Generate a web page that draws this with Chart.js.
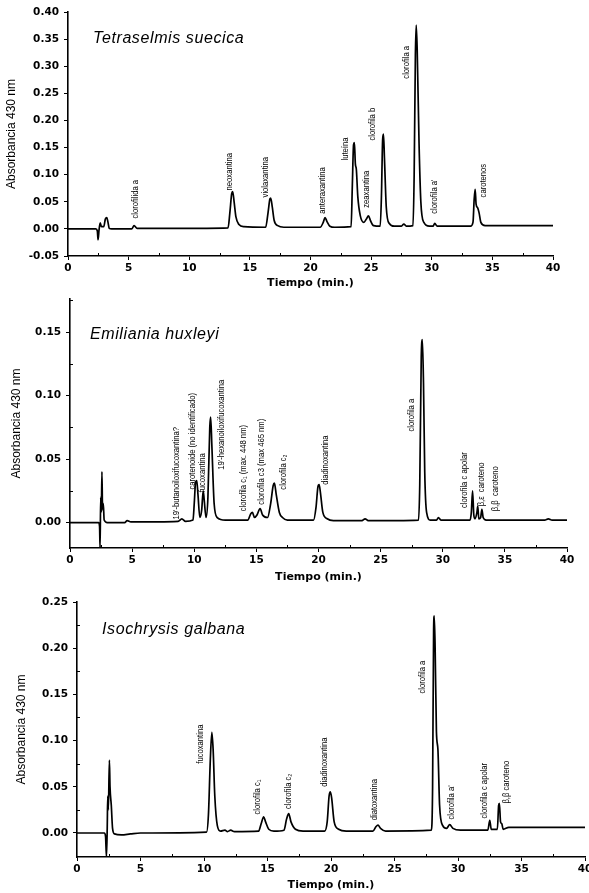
<!DOCTYPE html>
<html>
<head>
<meta charset="utf-8">
<script src="https://cdn.jsdelivr.net/npm/chart.js@4.4.1/dist/chart.umd.min.js"></script>
<style>
  body { margin: 0; background: #fff; width: 589px; height: 893px; overflow: hidden; position: relative; }
  canvas { position: absolute; left: 0; }
</style>
</head>
<body>
<canvas id="tetraChart" width="589" height="295" style="top:0px"></canvas>
<canvas id="emiliaChart" width="589" height="295" style="top:295px"></canvas>
<canvas id="isoChart" width="589" height="303" style="top:590px"></canvas>
<script>
// ticks comunes del eje de tiempo
const ticksTiempo = [0, 2.5, 5, 7.5, 10, 12.5, 15, 17.5, 20, 22.5, 25, 27.5, 30, 32.5, 35, 37.5, 40];

// --- Tetraselmis suecica ---
const tiempoTetra = [0, 2.3, 2.42, 2.48, 2.56, 2.66, 2.76, 2.95, 3.08, 3.2, 3.3, 3.4, 3.6, 5.25, 5.45, 5.7, 9,
  13.2, 13.35, 13.5, 13.58, 13.7, 13.85, 14.1, 14.5, 16.3, 16.5, 16.65, 16.72, 16.85, 17.0, 17.3, 17.8,
  20.8, 21.05, 21.2, 21.35, 21.6, 22, 23.35, 23.45, 23.55, 23.62, 23.7, 23.78, 23.9, 24.1, 24.4, 24.6, 24.78, 24.95, 25.2,
  25.75, 25.85, 25.95, 26.02, 26.1, 26.25, 26.5, 26.9, 27.5, 27.7, 27.9, 28.45, 28.55, 28.65, 28.72, 28.8, 28.95, 29.1, 29.35, 29.8,
  30.1, 30.25, 30.45, 33.2, 33.4, 33.5, 33.58, 33.66, 33.78, 33.9, 34.05, 34.4, 40];
const absTetra = [0, 0, -0.004, -0.02, -0.002, 0.011, 0.004, 0.004, 0.018, 0.021, 0.012, 0.001, 0, 0, 0.006, 0.001, 0.001,
  0.002, 0.03, 0.065, 0.069, 0.05, 0.022, 0.008, 0.004, 0.003, 0.03, 0.055, 0.057, 0.04, 0.016, 0.006, 0.003,
  0.003, 0.012, 0.021, 0.014, 0.005, 0.003, 0.004, 0.08, 0.155, 0.159, 0.12, 0.11, 0.06, 0.025, 0.012, 0.018, 0.024, 0.015, 0.006,
  0.005, 0.06, 0.165, 0.175, 0.13, 0.04, 0.01, 0.005, 0.005, 0.009, 0.005, 0.006, 0.1, 0.32, 0.376, 0.33, 0.16, 0.05, 0.012, 0.005,
  0.005, 0.01, 0.005, 0.005, 0.012, 0.055, 0.073, 0.045, 0.039, 0.03, 0.012, 0.006, 0.006];
const ticksAbsTetra = [-0.05, -0.025, 0, 0.025, 0.05, 0.075, 0.1, 0.125, 0.15, 0.175, 0.2, 0.225, 0.25, 0.275, 0.3, 0.325, 0.35, 0.375, 0.4];
const pigmentosTetra = ["clorofilida a", "neoxantina", "violaxantina", "anteraxantina", "luteína", "zeaxantina",
  "clorofila b", "clorofila a", "clorofila a'", "carotenos"];
const pigTiempoTetra = [5.53, 13.28, 16.33, 20.95, 22.85, 24.66, 25.15, 27.96, 30.19, 34.23];
const pigAbsTetra = [0.019, 0.071, 0.058, 0.028, 0.126, 0.039, 0.163, 0.277, 0.028, 0.058];

// --- Emiliania huxleyi ---
const tiempoEmilia = [0, 2.3, 2.38, 2.42, 2.47, 2.52, 2.57, 2.62, 2.68, 2.75, 3.0, 4.4, 4.6, 4.9, 8.7, 9.0, 9.3,
  9.9, 10.0, 10.1, 10.2, 10.3, 10.45, 10.6, 10.72, 10.8, 10.95, 11.1, 11.25, 11.32, 11.42, 11.6, 11.85, 12.5,
  14.3, 14.55, 14.68, 14.85, 15.05, 15.3, 15.5, 15.9, 16.15, 16.35, 16.45, 16.6, 16.85, 17.1, 17.5,
  19.6, 19.8, 19.95, 20.05, 20.15, 20.35, 20.7, 21.2, 23.5, 23.75, 24.0,
  28.05, 28.15, 28.27, 28.36, 28.45, 28.55, 28.7, 29.0, 29.5, 29.65, 29.85,
  32.2, 32.3, 32.4, 32.5, 32.6, 32.75, 32.82, 32.9, 33.05, 33.15, 33.25, 33.5, 38.2, 38.5, 38.8, 40];
const absEmilia = [0, 0, -0.003, -0.02, 0.02, 0.008, 0.04, 0.01, 0.015, 0.002, 0, 0, 0.0015, 0.0005, 0.001, 0.003, 0.001,
  0.002, 0.015, 0.031, 0.033, 0.022, 0.004, 0.01, 0.025, 0.018, 0.004, 0.02, 0.075, 0.083, 0.06, 0.015, 0.004, 0.002,
  0.002, 0.007, 0.008, 0.004, 0.006, 0.011, 0.006, 0.004, 0.015, 0.029, 0.031, 0.022, 0.008, 0.004, 0.002,
  0.002, 0.012, 0.028, 0.03, 0.024, 0.008, 0.003, 0.0015, 0.0015, 0.003, 0.0015,
  0.002, 0.03, 0.13, 0.144, 0.11, 0.04, 0.008, 0.002, 0.002, 0.004, 0.002,
  0.002, 0.008, 0.025, 0.006, 0.003, 0.008, 0.013, 0.003, 0.004, 0.0105, 0.004, 0.002, 0.002, 0.003, 0.002, 0.002];
const ticksAbsEmilia = [0, 0.025, 0.05, 0.075, 0.1, 0.125, 0.15, 0.175];
const pigmentosEmilia = ["19'-butanoiloxifucoxantina?", "carotenoide (no identificado)", "fucoxantina",
  "19'-hexanoiloxifucoxantina", "clorofila c\u2081 (max. 448 nm)", "clorofila c3 (max 465 nm)", "clorofila c\u2082",
  "diadinoxantina", "clorofila a", "clorofila c apolar", "\u03b2,\u03b5  caroteno", "\u03b2,\u03b2  caroteno"];
const pigTiempoEmilia = [8.61, 9.88, 10.68, 12.21, 13.95, 15.43, 17.17, 20.58, 27.5, 31.73, 33.13, 34.26];
const pigAbsEmilia = [0.0024, 0.026, 0.0238, 0.0416, 0.0089, 0.0141, 0.0259, 0.0298, 0.0717, 0.0115, 0.0128, 0.0089];

// --- Isochrysis galbana ---
const tiempoIso = [0, 2.15, 2.25, 2.32, 2.38, 2.42, 2.47, 2.55, 2.6, 2.7, 2.8, 2.95, 3.5, 4.2, 5.0,
  10.2, 10.35, 10.5, 10.62, 10.72, 10.85, 11.05, 11.3, 11.65, 11.85, 12.1, 12.4,
  14.3, 14.5, 14.7, 14.85, 15.1, 15.5, 16.3, 16.5, 16.67, 16.85, 17.2, 17.8,
  19.5, 19.7, 19.85, 19.95, 20.05, 20.25, 20.6, 21.2, 23.3, 23.55, 23.7, 23.9, 24.3,
  27.9, 28.0, 28.08, 28.13, 28.2, 28.3, 28.42, 28.55, 28.8, 29.1, 29.35, 29.6, 30.2,
  32.35, 32.5, 32.62, 33.1, 33.2, 33.26, 33.35, 33.45, 33.55, 34.0, 40];
const absIso = [0, 0, -0.004, -0.026, 0.005, 0.04, 0.025, 0.079, 0.05, 0.03, 0.005, -0.001, -0.002, -0.001, 0,
  0.001, 0.02, 0.08, 0.109, 0.09, 0.04, 0.008, 0.002, 0.003, 0.0015, 0.003, 0.0015,
  0.002, 0.01, 0.0175, 0.012, 0.004, 0.002, 0.003, 0.015, 0.021, 0.012, 0.004, 0.002,
  0.002, 0.012, 0.04, 0.0445, 0.038, 0.012, 0.004, 0.002, 0.002, 0.007, 0.0084, 0.005, 0.002,
  0.003, 0.05, 0.22, 0.235, 0.2, 0.11, 0.09, 0.03, 0.008, 0.005, 0.009, 0.005, 0.003,
  0.003, 0.0137, 0.004, 0.004, 0.03, 0.032, 0.012, 0.01, 0.004, 0.006, 0.006];
const ticksAbsIso = [-0.025, 0, 0.025, 0.05, 0.075, 0.1, 0.125, 0.15, 0.175, 0.2, 0.225, 0.25];
const pigmentosIso = ["fucoxantina", "clorofila c\u2081", "clorofila c\u2082", "diadinoxantina", "diatoxantina",
  "clorofila a", "clorofila a'", "clorofila c apolar", "\u03b2,\u03b2 caroteno"];
const pigTiempoIso = [9.7, 14.22, 16.65, 19.49, 23.43, 27.24, 29.5, 32.11, 33.82];
const pigAbsIso = [0.075, 0.02, 0.026, 0.05, 0.0137, 0.151, 0.0145, 0.0156, 0.0318];

function esMayor(v, paso) {
  return Math.abs(v / paso - Math.round(v / paso)) < 1e-6;
}

// etiquetas verticales de los picos, nombre de la especie y ticks menores hacia dentro
const etiquetasPlugin = {
  id: "etiquetas",
  afterDatasetsDraw(chart, args, opts) {
    const ctx = chart.ctx;
    const xs = chart.scales.x;
    const ys = chart.scales.y;
    const area = chart.chartArea;
    ctx.save();
    ctx.strokeStyle = "#000";
    ctx.lineWidth = 1;
    ctx.beginPath();
    xs.ticks.forEach((t) => {
      if (esMayor(t.value, 5)) return;
      const px = Math.round(xs.getPixelForValue(t.value)) + 0.5;
      ctx.moveTo(px, area.bottom);
      ctx.lineTo(px, area.bottom - 3);
    });
    ys.ticks.forEach((t) => {
      if (esMayor(t.value, 0.05)) return;
      const py = Math.round(ys.getPixelForValue(t.value)) + 0.5;
      ctx.moveTo(area.left, py);
      ctx.lineTo(area.left + 3, py);
    });
    ctx.stroke();

    ctx.fillStyle = "#000";
    ctx.font = "9px 'Liberation Sans', Arial, sans-serif";
    ctx.textBaseline = "middle";
    ctx.textAlign = "left";
    opts.nombres.forEach((txt, i) => {
      const px = xs.getPixelForValue(opts.tiempos[i]);
      const py = ys.getPixelForValue(opts.valores[i]);
      ctx.save();
      ctx.translate(px, py);
      ctx.rotate(-Math.PI / 2);
      ctx.scale(0.85, 1);
      ctx.fillText(txt, 0, 0);
      ctx.restore();
    });
    ctx.font = "italic 16px 'Liberation Sans', Arial, sans-serif";
    ctx.letterSpacing = "0.6px";
    ctx.fillText(opts.titulo, area.left + opts.tituloX, area.top + opts.tituloY);
    ctx.restore();
  }
};

function dibujarCromatograma(id, tiempos, absorbancias, ticksAbs, minY, maxY, pig, layout) {
  const ctx = document.getElementById(id).getContext("2d");
  const puntos = tiempos.map((t, i) => ({ x: t, y: absorbancias[i] }));

  return new Chart(ctx, {
    type: "line",
    data: {
      datasets: [
        {
          data: puntos,
          borderColor: "#000",
          borderWidth: 1.7,
          pointRadius: 0,
          cubicInterpolationMode: "monotone",
          fill: false,
        },
      ],
    },
    options: {
      responsive: false,
      animation: false,
      layout: { padding: { top: layout.arriba, right: layout.derecha, left: 0, bottom: 0 } },
      plugins: {
        legend: { display: false },
        tooltip: { enabled: false },
        etiquetas: pig,
      },
      scales: {
        x: {
          type: "linear",
          min: 0,
          max: 40,
          afterBuildTicks: (s) => { s.ticks = ticksTiempo.map((v) => ({ value: v })); },
          afterFit: (s) => { s.height = layout.altoX; s.paddingLeft = 0; s.paddingRight = 0; },
          ticks: {
            autoSkip: false,
            maxRotation: 0,
            padding: 2,
            color: "#000",
            font: { family: "'DejaVu Sans'", size: 10.5, weight: "bold" },
            callback: (v) => (v % 5 === 0 ? String(v) : ""),
          },
          grid: {
            drawOnChartArea: false,
            drawTicks: true,
            tickLength: 4,
            color: "#000",
            tickColor: (c) => (c.tick && esMayor(c.tick.value, 5) ? "#000" : "rgba(0,0,0,0)"),
            lineWidth: 1,
          },
          border: { display: true, color: "#000", width: 1.6 },
          title: {
            display: true,
            text: "Tiempo (min.)",
            color: "#000",
            font: { family: "'DejaVu Sans'", size: 11, weight: "bold" },
            padding: { top: 0, bottom: layout.tituloX },
          },
        },
        y: {
          type: "linear",
          min: minY,
          max: maxY,
          afterBuildTicks: (s) => { s.ticks = ticksAbs.map((v) => ({ value: v })); },
          afterFit: (s) => { s.width = layout.anchoY; s.paddingTop = 0; s.paddingBottom = 0; },
          ticks: {
            padding: 5,
            color: "#000",
            font: { family: "'DejaVu Sans'", size: 10.5, weight: "bold" },
            callback: (v) => (esMayor(v, 0.05) ? v.toFixed(2) : ""),
          },
          grid: {
            drawOnChartArea: false,
            drawTicks: true,
            tickLength: 4,
            color: "#000",
            tickColor: (c) => (c.tick && esMayor(c.tick.value, 0.05) ? "#000" : "rgba(0,0,0,0)"),
            lineWidth: 1,
          },
          border: { display: true, color: "#000", width: 1.6 },
          title: {
            display: true,
            text: "Absorbancia 430 nm",
            color: "#000",
            font: { family: "'Liberation Sans', Arial", size: 12 },
            padding: { top: layout.tituloY, bottom: 0 },
          },
        },
      },
    },
    plugins: [etiquetasPlugin],
  });
}

document.addEventListener("DOMContentLoaded", function () {
  dibujarCromatograma("tetraChart", tiempoTetra, absTetra, ticksAbsTetra, -0.05, 0.4,
    { nombres: pigmentosTetra, tiempos: pigTiempoTetra, valores: pigAbsTetra, titulo: "Tetraselmis suecica", tituloX: 25, tituloY: 27 },
    { arriba: 12, derecha: 36, altoX: 39, anchoY: 68, tituloX: 5, tituloY: 4 });
  dibujarCromatograma("emiliaChart", tiempoEmilia, absEmilia, ticksAbsEmilia, -0.02, 0.176,
    { nombres: pigmentosEmilia, tiempos: pigTiempoEmilia, valores: pigAbsEmilia, titulo: "Emiliania huxleyi", tituloX: 20, tituloY: 36 },
    { arriba: 4, derecha: 22, altoX: 42, anchoY: 70, tituloX: 6, tituloY: 9 });
  dibujarCromatograma("isoChart", tiempoIso, absIso, ticksAbsIso, -0.026, 0.25,
    { nombres: pigmentosIso, tiempos: pigTiempoIso, valores: pigAbsIso, titulo: "Isochrysis galbana", tituloX: 25, tituloY: 28 },
    { arriba: 12, derecha: 4, altoX: 36, anchoY: 77, tituloX: 1.5, tituloY: 14 });
});
</script>
</body>
</html>
